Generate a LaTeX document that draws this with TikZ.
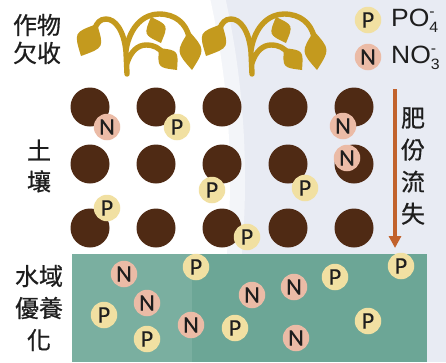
\documentclass[tikz,border=0pt]{standalone}
\usepackage{fontspec}
\setmainfont{Liberation Sans}
\newfontfamily\cjkfont{Noto Sans CJK TC}[FakeBold=0.6]
\newfontfamily\ionfont{Carlito}[FakeBold=0.3]
\newfontfamily\keyfont{Liberation Sans}[FakeStretch=1.06]
\usetikzlibrary{calc,arrows.meta}

\definecolor{bgtint}{HTML}{E8EBF3}
\definecolor{soil}{HTML}{4F2A14}
\definecolor{waterc}{HTML}{6CA696}
\definecolor{pfill}{HTML}{F1E0A2}
\definecolor{nfill}{HTML}{EBBBA6}
\definecolor{gold}{HTML}{C49A1E}
\definecolor{flowc}{HTML}{C2622C}
\definecolor{inkc}{HTML}{1E1E1E}

% lens-shaped leaf from base #1 to tip #2, bulge #3
\newcommand\leafshape[3]{%
  \coordinate (lfm) at ($(#1)!0.5!(#2)$);
  \fill[gold] (#1) .. controls ($(lfm)!#3!90:(#2)$) .. (#2)
                   .. controls ($(lfm)!#3!-90:(#2)$) .. (#1);}

% one seedling, drawn around its stem base
\newcommand\seedling{%
  \draw[stem] (127,74) -- (126,52)
     .. controls (124,30) and (115,19) .. (106,19)
     .. controls (100,19) and (97,23) .. (95,28);
  \draw[stem] (126,50) .. controls (130,26) and (144,14) .. (159,14)
     .. controls (175,14) and (186,23) .. (189,37);
  \draw[stem] (127,63) .. controls (131,51) and (138,45) .. (146,45)
     .. controls (154,45) and (159,48) .. (163,53);
  \leafshape{97,24}{81,56}{0.95}
  \leafshape{189,31}{192,70}{0.75}
  \leafshape{151,17}{161,43}{0.95}
  \leafshape{159,48}{177,70}{0.95}}

% charge and count on a formula: #1 below, #2 above
\newcommand\chg[2]{\rlap{\raisebox{10pt}{\fontsize{15}{15}\selectfont #2}}\raisebox{-6pt}{\fontsize{15}{15}\selectfont #1}}

\tikzset{
  stem/.style={gold, line width=5.4pt, line cap=round},
  grain/.style={circle, fill=soil, inner sep=0pt, minimum size=39pt},
  ion/.style={circle, inner sep=0pt, minimum size=26.5pt, text=inkc,
    font=\ionfont\fontsize{24}{24}\selectfont},
  ionP/.style={ion, fill=pfill},
  ionN/.style={ion, fill=nfill},
  label/.style={text=inkc, align=center, inner sep=0pt},
  keytext/.style={anchor=west, inner sep=0pt, text=inkc,
    font=\keyfont\fontsize{25}{25}\selectfont},
}

\begin{document}
\begin{tikzpicture}[x=1pt, y=-1pt]
\useasboundingbox (0,0) rectangle (446,362);

% background: pale tint with a whiter left side
\fill[bgtint] (0,0) rectangle (446,362);
\begin{scope}
  \clip (0,0) rectangle (446,362);
  \fill[white] (-600,180) circle (830pt);
  \fill[white, opacity=0.5] (-600,180) circle (845pt);
\end{scope}

% crops
\seedling
\begin{scope}[xshift=125pt]
  \seedling
\end{scope}

% water body
\fill[waterc] (72,254) rectangle (427,362);
\fill[white, opacity=0.1] (72,254) rectangle (192,362);

% soil grains
\foreach \col/\x in {1/90,2/156,3/222,4/288,5/354}
  \foreach \row/\y in {1/107,2/164,3/228}
    \node[grain] (g\row\col) at (\x,\y) {};

% ions held in the soil
\node[ionN] (sn1) at (107,127) {N};
\node[ionP] (sp1) at (177,127) {P};
\node[ionN] (sn2) at (343,126) {N};
\node[ionN] (sn3) at (347,158) {N};
\node[ionP] (sp2) at (212,190) {P};
\node[ionP] (sp3) at (305,188) {P};
\node[ionP] (sp4) at (107,208) {P};
\node[ionP] (sp5) at (247,237) {P};

% ions in the water
\node[ionN] (wn1) at (124,274) {N};
\node[ionP] (wp1) at (196,267) {P};
\node[ionP] (wp2) at (401,266) {P};
\node[ionP] (wp3) at (335,277) {P};
\node[ionN] (wn2) at (294,287) {N};
\node[ionN] (wn3) at (252,295) {N};
\node[ionN] (wn4) at (147,303) {N};
\node[ionP] (wp4) at (104,315) {P};
\node[ionN] (wn5) at (191,325) {N};
\node[ionP] (wp5) at (235,328) {P};
\node[ionP] (wp6) at (368,321) {P};
\node[ionP] (wp7) at (147,339) {P};
\node[ionN] (wn6) at (296,338) {N};

% leaching arrow
\coordinate (flowtop) at (395,89);
\coordinate (flowend) at (395,248);
\draw[flowc, line width=3.6pt, -{Triangle[width=12pt,length=12pt]}] (flowtop) -- (flowend);
\node[label, font=\cjkfont\fontsize{24}{32}\selectfont] (flowtxt) at (413,166) {肥\\份\\流\\失};

% side labels
\node[label, font=\cjkfont\fontsize{24}{28}\selectfont] (croptxt) at (37,39) {作物\\欠收};
\node[label, font=\cjkfont\fontsize{24}{31}\selectfont] (soiltxt) at (39,166) {土\\壤};
\node[label, font=\cjkfont\fontsize{24}{32}\selectfont] (watertxt) at (39,308) {水域\\優養\\化};

% legend
\node[ionP] (keyp) at (368,20) {P};
\node[ionN] (keyn) at (368,57) {N};
\node[keytext] (keyptxt) at (391,21) {PO\chg{4}{-}};
\node[keytext] (keyntxt) at (391,58) {NO\chg{3}{-}};
\end{tikzpicture}
\end{document}
